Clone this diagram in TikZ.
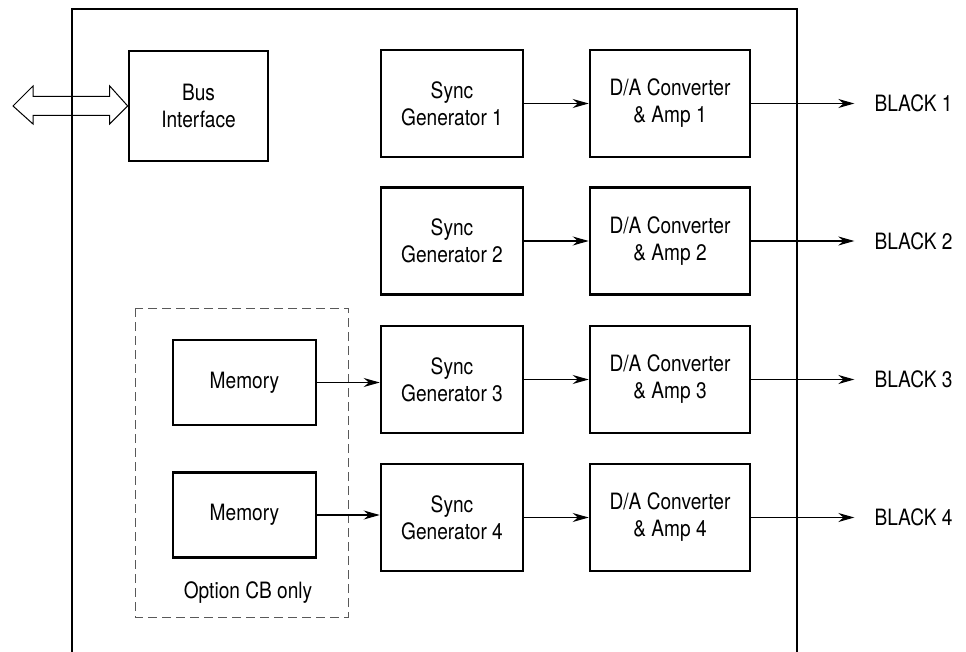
\documentclass[tikz,border=0pt]{standalone}
\usepackage{fontspec}
\setmainfont{TeX Gyre Heros}[FakeStretch=0.85]
\usetikzlibrary{arrows.meta,calc}
\tikzset{
  txt/.style={font=\fontsize{22.5}{27}\selectfont},
  blk/.style={draw, line width=2.6pt, minimum height=107pt, align=center, txt, inner sep=0pt},
  sgen/.style={blk, minimum width=142pt},
  dac/.style={blk, minimum width=160pt},
  memb/.style={blk, minimum width=143pt, minimum height=85pt},
  conn/.style={line width=1.1pt, -{Stealth[length=16pt,width=9pt]}},
  lbl/.style={anchor=west, inner sep=0pt, txt}
}
\begin{document}
\begin{tikzpicture}[x=1pt,y=-1pt]
\useasboundingbox (0,0) rectangle (966,652);
% outer frame
\draw[line width=1.2pt] (72,652) -- (72,9) -- (797,9) -- (797,652);
% dashed option box
\draw[line width=1pt, gray!70!black, dash pattern=on 9pt off 5pt] (135,308) rectangle (348,617);
\node[txt] (opt) at (248,593) {Option CB only};
% blocks
\node[blk, minimum width=139pt, minimum height=110pt] (bus) at (198.5,106) {Bus\\Interface};
\node[sgen] (s1) at (452,103.5) {Sync\\Generator 1};
\node[sgen] (s2) at (452,241) {Sync\\Generator 2};
\node[sgen] (s3) at (452,379.5) {Sync\\Generator 3};
\node[sgen] (s4) at (452,517.5) {Sync\\Generator 4};
\node[dac] (d1) at (670,103.5) {D/A Converter\\\& Amp 1};
\node[dac] (d2) at (670,241) {D/A Converter\\\& Amp 2};
\node[dac] (d3) at (670,379.5) {D/A Converter\\\& Amp 3};
\node[dac] (d4) at (670,517.5) {D/A Converter\\\& Amp 4};
\node[memb] (m1) at (244.5,382.5) {Memory};
\node[memb] (m2) at (244.5,515) {Memory};
% outputs
\foreach \i in {1,2,3,4}{
  \coordinate (o\i) at ($(d\i.east)+(103,0)$);
  \node[lbl] (b\i) at ($(d\i.east)+(123,0)$) {BLACK \i};
  \draw[conn] (s\i) -- (d\i);
  \draw[conn] (d\i) -- (o\i);
}
\draw[conn] (m1.east) -- (m1.east -| s3.west);
\draw[conn] (m2.east) -- (m2.east -| s4.west);
% bidirectional bus arrow
\coordinate (bt) at (13,106);
\draw[line width=1pt, line join=miter]
  (bt) -- ++(20,-20) -- ++(0,10.5) -- ($(bus.west)+(-18,-9.5)$) -- ++(0,-10.5) -- (bus.west)
  -- ++(-18,18) -- ++(0,-8.5) -- ($(bt)+(20,9.5)$) -- ++(0,8.5) -- cycle;
\end{tikzpicture}
\end{document}
